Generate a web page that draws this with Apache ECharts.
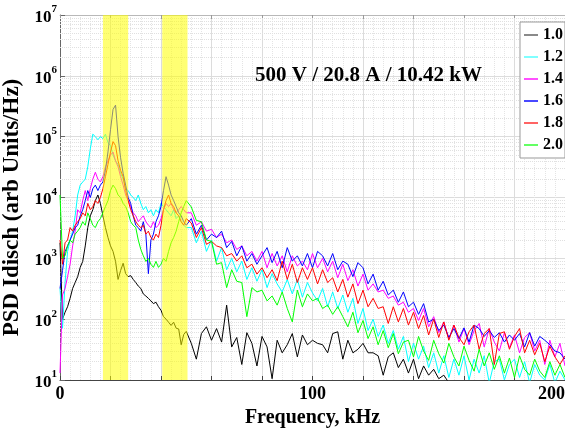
<!DOCTYPE html>
<html>
<head>
  <meta charset="utf-8">
</head>
<body style="margin: 0">
  <div id="container" style="width: 565px; height: 433px"></div>
  <script src="https://cdn.jsdelivr.net/npm/echarts@6/dist/echarts.min.js"></script>
  <script>
    // frequency samples, kHz (1 kHz steps to 50, then 2 kHz steps)
    var freq = [0,1,2,3,4,5,6,7,8,9,10,11,12,13,14,15,16,17,18,19,20,21,22,23,24,25,26,27,28,29,30,31,32,33,34,35,36,37,38,39,40,41,42,43,44,45,46,47,48,49,50,
      52,54,56,58,60,62,64,66,68,70,72,74,76,78,80,82,84,86,88,90,92,94,96,98,100,102,104,106,108,110,112,114,116,118,120,122,124,126,128,130,
      132,134,136,138,140,142,144,146,148,150,152,154,156,158,160,162,164,166,168,170,172,174,176,178,180,182,184,186,188,190,192,194,196,198,200];

    var names = ['1.0', '1.2', '1.4', '1.6', '1.8', '2.0'];

    var psd10 = [1800,100,130,160,220,320,400,500,710,890, 1600,3200,5000,6300,8900,11000,8000,5000,3200,2200,
      1600,1300,890,450,630,830,560,500,520,450, 400,350,320,260,240,220,200,180,190,160,
      140,110,100,89,79,89,71,69,38,56, 63,
      40,22,58,75,45,70,42,170,35,50, 18,60,40,17,52,35,10.5,45,28,38,
      58,24,55,38,45,40,38,28,58,62, 22,45,28,32,40,28,28,25,12,24,
      28,16,22,13,22,10.5,17,12,15,10.5, 12,9];

    var psd12 = [320,71,400,1300,2000,2800,5000,11000,16000,18000, 20000,32000,63000,110000,100000,89000,100000,93000,110000,80000,
      71000,50000,40000,35000,25000,20000,14000,13000,11000,10000, 8900,11000,8000,6300,7100,5600,6300,5000,6300,5600,
      8000,7100,6300,5600,5000,6300,4500,5000,4000,3500, 3200,
      3200,1800,2800,1300,2000,900,1500,650,1000,600, 900,450,700,420,650,330,560,380,280,450,
      260,450,230,400,270,200,320,160,280,150, 250,130,220,85,150,65,100,52,80,40,
      65,32,52,20,40,22,36,16,28,13, 25,11,22,12,25,10,22,13,25,9,
      20,22,10,18,22,11,20,9,18,12, 10,18,9,14,10];

    var psd14 = [13,250,320,500,800,1600,2800,6300,5600,8900, 13000,8900,14000,20000,26000,20000,18000,22000,32000,40000,
      50000,56000,40000,32000,22000,16000,11000,8900,7100,5600, 5000,4000,4500,5000,4000,3500,3200,4000,3200,3500,
      4500,6300,8000,7100,8000,6300,5600,6300,7100,6300, 5600,
      5600,3500,4000,2800,3000,2200,2500,1800,2000,1400, 1600,1100,1300,900,1300,700,1200,750,1100,600,
      1100,750,900,650,1200,700,1000,600,900,480, 800,430,650,350,550,300,380,280,300,220,
      240,170,190,130,150,95,150,75,110,60, 90,48,80,42,70,38,65,85,35,70,
      42,30,60,34,55,28,50,60,30,45, 18,45,24,40,17];

    var psd16 = [320,630,1300,1600,2000,2500,3200,3500,5000,6300, 8900,13000,10000,14000,16000,13000,16000,18000,28000,56000,
      130000,280000,330000,100000,45000,25000,16000,10000,8000,5000, 3500,3200,2800,4000,2500,560,2000,2500,4000,5000,
      7100,13000,22000,16000,11000,8900,7100,5600,5000,4000, 3500,
      4500,2500,3500,2000,2500,2200,2800,1500,1900,1100, 1600,900,1200,800,1100,1500,850,1300,700,1500,
      900,1100,750,1200,700,1300,1100,750,1200,650, 900,800,500,850,700,380,550,300,420,250,
      300,190,280,160,190,120,180,90,100,65, 80,50,70,48,72,42,80,70,52,65,
      50,60,42,55,45,58,35,60,36,52, 45,38,30,28,22];

    var psd18 = [2000,800,1800,2000,3200,2800,3500,4000,4500,5600, 5000,8000,6300,7100,8900,8000,10000,14000,22000,35000,
      56000,83000,71000,40000,28000,22000,13000,8900,6300,5000, 4000,3500,3200,3500,2500,2800,2200,2000,2500,2200,
      3500,6300,8900,11000,8000,7100,5600,5000,4000,3500, 4500,
      3800,2200,3200,1700,1900,1600,1500,1100,1200,900, 1100,700,800,550,700,480,650,430,900,450,
      800,400,700,450,700,380,650,400,480,280, 450,230,380,180,300,160,220,150,160,85,
      160,90,150,80,130,70,115,55,100,50, 90,45,80,50,38,62,80,32,58,70,
      18,58,62,32,52,70,28,45,26,40, 20,36,24,18,25];

    var psd20 = [11000,1000,1100,1600,2000,1800,2500,2800,3200,4000, 3500,5600,4500,3500,3200,4000,4500,5600,7100,8900,
      13000,16000,14000,11000,10000,8000,7100,5600,4000,3500, 3200,2000,1400,1100,890,1000,800,710,890,710,
      800,1000,890,1300,1800,2200,2800,4000,5600,7100, 8900,
      7000,4200,4000,2000,1900,800,850,330,650,420, 400,110,330,280,300,200,240,170,280,150,
      90,300,160,260,200,220,150,170,120,160, 110,75,130,60,95,48,75,38,65,34,
      58,27,42,45,24,52,30,21,45,27, 19,40,24,17,36,21,14,32,17,28,
      15,25,13,23,11,25,15,12,22,14, 11,20,12,18,11];

    var yTickExps = [1, 2, 3, 4, 5, 6, 7];

    var lineColors = ['#000000', '#00ffff', '#ff00ff', '#0000ff', '#ff0000', '#00ff00'];
    var legendColors = ['#8a8a8a', '#80ffff', '#ff50ff', '#4848ff', '#ff6464', '#64ff64'];
    var serif = '"Liberation Serif", "Times New Roman", serif';

    var dom = document.getElementById('container');
    var myChart = echarts.init(dom, null, { renderer: 'canvas' });

    var allPsd = [psd10, psd12, psd14, psd16, psd18, psd20];

    // dotted minor grid lines at 2..9 of each decade
    var minorLines = [];
    for (var d = 1; d < 7; d++) {
      for (var k = 2; k < 10; k++) {
        minorLines.push({ yAxis: k * Math.pow(10, d) });
      }
    }

    var series = [
      {
        name: 'minorGrid',
        type: 'line',
        data: [],
        z: 1,
        silent: true,
        markLine: {
          z: 1,
          silent: true,
          symbol: 'none',
          label: { show: false },
          lineStyle: { color: '#e0e0e0', type: 'dotted', width: 1 },
          animation: false,
          data: minorLines
        }
      }
    ];

    allPsd.forEach(function (vals, i) {
      series.push({
        name: names[i],
        type: 'line',
        symbol: 'none',
        clip: true,
        z: 3,
        lineStyle: { width: 1, color: lineColors[i] },
        itemStyle: { color: lineColors[i] },
        data: vals.map(function (v, j) { return [freq[j], v]; })
      });
    });

    // translucent yellow bands laid over the spectra
    series.push({
      name: 'bands',
      type: 'line',
      data: [],
      z: 10,
      silent: true,
      markArea: {
        z: 6,
        silent: true,
        itemStyle: { color: 'rgba(255,255,0,0.55)' },
        data: [
          [{ xAxis: 17 }, { xAxis: 27 }],
          [{ xAxis: 40.5 }, { xAxis: 50.5 }]
        ]
      }
    });

    var option = {
      animation: false,
      backgroundColor: '#fff',
      title: {
        text: '500 V / 20.8 A / 10.42 kW',
        left: 250,
        top: 60,
        textStyle: { fontFamily: serif, fontSize: 21, fontWeight: 'bold', color: '#000' }
      },
      legend: {
        z: 20,
        data: names.map(function (n, i) {
          return {
            name: n,
            icon: 'rect',
            itemStyle: { color: legendColors[i], borderWidth: 0, opacity: 1 }
          };
        }),
        orient: 'vertical',
        left: 520,
        top: 22,
        padding: [5, 2, 5, 4],
        itemWidth: 14,
        itemHeight: 2,
        itemGap: 6,
        backgroundColor: '#fff',
        borderColor: '#999',
        borderWidth: 1,
        borderRadius: 0,
        textStyle: { fontFamily: serif, fontSize: 16, fontWeight: 'bold', color: '#000' }
      },
      grid: { left: 60, right: 0, top: 15, bottom: 53, containLabel: false, outerBoundsMode: 'none' },
      xAxis: [
        {
          type: 'value',
          position: 'bottom',
          min: 0,
          max: 200,
          interval: 20,
          name: 'Frequency, kHz',
          nameLocation: 'middle',
          nameGap: 27,
          nameTextStyle: { fontFamily: serif, fontSize: 20, fontWeight: 'bold', color: '#000' },
          axisLine: { onZero: false, lineStyle: { color: '#444', width: 1 } },
          axisTick: { inside: true, length: 4, lineStyle: { color: '#444' } },
          axisLabel: {
            margin: 5,
            fontFamily: serif,
            fontSize: 18,
            fontWeight: 'bold',
            color: '#000',
            alignMaxLabel: 'right',
            formatter: function (v) { return v % 100 === 0 ? String(v) : ''; }
          },
          splitLine: { show: true, lineStyle: { color: '#dcdcdc', width: 1 } },
          minorTick: { show: false, splitNumber: 5 },
          minorSplitLine: { show: true, lineStyle: { color: '#e4e4e4', type: 'dotted' } }
        },
        {
          type: 'value',
          position: 'top',
          min: 0,
          max: 200,
          interval: 20,
          axisLine: { onZero: false, lineStyle: { color: '#b8b8b8', width: 1 } },
          axisTick: { inside: true, length: 4, lineStyle: { color: '#999' } },
          axisLabel: { show: false },
          splitLine: { show: false }
        }
      ],
      yAxis: {
        type: 'log',
        logBase: 10,
        min: Math.pow(10, yTickExps[0]),
        max: Math.pow(10, yTickExps[yTickExps.length - 1]),
        name: 'PSD Idisch (arb Units/Hz)',
        nameLocation: 'middle',
        nameRotate: 90,
        nameGap: 24,
        nameTextStyle: { fontFamily: serif, fontSize: 23, fontWeight: 'bold', color: '#000', padding: [0, 20, 0, 0] },
        axisLine: { show: true, lineStyle: { color: '#666', width: 1 } },
        axisTick: { inside: true, length: 5, lineStyle: { color: '#666' } },
        axisLabel: {
          margin: 3,
          formatter: function (v) {
            return '{b|10}{s|' + Math.round(Math.log10(v)) + '}';
          },
          rich: {
            b: { fontFamily: serif, fontSize: 17, fontWeight: 'bold', color: '#000', lineHeight: 22, verticalAlign: 'bottom' },
            s: { fontFamily: serif, fontSize: 11, fontWeight: 'bold', color: '#000', lineHeight: 22, verticalAlign: 'top' }
          }
        },
        splitLine: { show: true, lineStyle: { color: '#dcdcdc', width: 1 } }
      },
      series: series
    };

    myChart.setOption(option);
    window.addEventListener('resize', myChart.resize);
  </script>
</body>
</html>
